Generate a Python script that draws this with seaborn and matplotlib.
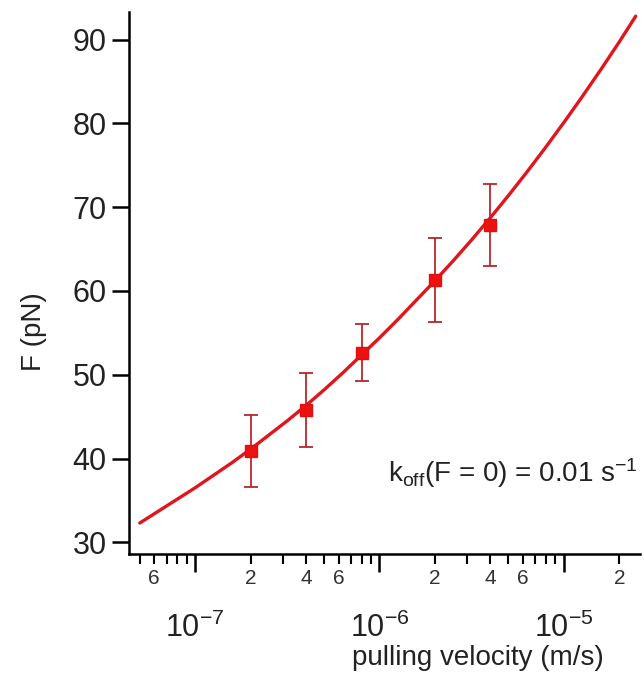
import numpy as np
import pandas as pd
import matplotlib
matplotlib.use("Agg")
import matplotlib.pyplot as plt
from matplotlib.ticker import FixedLocator, FuncFormatter
import seaborn as sns

sns.set_theme(style="ticks")
plt.rcParams["font.family"] = ["Liberation Sans", "DejaVu Sans"]
plt.rcParams["mathtext.fontset"] = "custom"
plt.rcParams["mathtext.rm"] = "Liberation Sans"
plt.rcParams["mathtext.it"] = "Liberation Sans"

# measured rupture forces
velocity = [2e-7, 4e-7, 8e-7, 2e-6, 4e-6]
force = [40.9, 45.8, 52.6, 61.3, 67.9]
force_err = [4.35, 4.4, 3.4, 5.05, 4.9]

# fitted model curve (log10 of velocity)
fit_logv = [-7.30, -7.20, -7.10, -7.00, -6.90, -6.80, -6.70, -6.60, -6.50,
            -6.40, -6.30, -6.20, -6.10, -6.00, -5.90, -5.80, -5.70, -5.60,
            -5.50, -5.40, -5.30, -5.20, -5.10, -5.00, -4.90, -4.80, -4.70,
            -4.61]
fit_force = [32.3, 33.7, 35.1, 36.5, 38.0, 39.5, 41.1, 42.8, 44.5,
             46.3, 48.2, 50.2, 52.3, 54.4, 56.6, 58.9, 61.2, 63.6,
             66.1, 68.7, 71.4, 74.2, 77.1, 80.1, 83.2, 86.4, 89.7,
             92.8]

annotation = r"k$_{\rm off}$(F = 0) = 0.01 s$^{-1}$"

fit = pd.DataFrame({"v": 10.0 ** np.array(fit_logv), "F": fit_force})

fig = plt.figure(figsize=(6.44, 6.73), dpi=100)
ax = fig.add_axes([129 / 644, 1 - 554 / 673, 511 / 644, 542 / 673])

sns.lineplot(data=fit, x="v", y="F", ax=ax, color="#e0161c", lw=2.4,
             sort=False, legend=False)
ax.errorbar(velocity, force, yerr=force_err, fmt="none", ecolor="#b8262c",
            elinewidth=1.3, capsize=5, capthick=1.3, zorder=3)
ax.plot(velocity, force, ls="none", marker="s", ms=9, color="#ee1111",
        mec="#e01010", zorder=4)

ax.set_xscale("log")
ax.set_xlim(4.38e-8, 2.59e-5)
ax.set_ylim(28.6, 93.3)

# y axis
ax.set_yticks([30, 40, 50, 60, 70, 80, 90])
ax.tick_params(axis="y", which="major", direction="out", length=12, width=1.8,
               labelsize=22, pad=4, color="black", labelcolor="#222222")

# x axis: decades below, 2/4/6 above
ax.xaxis.set_major_locator(FixedLocator([1e-7, 1e-6, 1e-5]))
ax.xaxis.set_major_formatter(FuncFormatter(
    lambda v, p: r"$\mathregular{10^{%d}}$" % int(round(np.log10(v)))))
minors = [m * 10.0 ** e for e in (-8, -7, -6, -5) for m in range(2, 10)]
ax.xaxis.set_minor_locator(FixedLocator(minors))


def minor_label(v, pos):
    m = int(round(v / 10.0 ** np.floor(np.log10(v) + 1e-9)))
    return str(m) if m in (2, 4, 6) else ""


ax.xaxis.set_minor_formatter(FuncFormatter(minor_label))
ax.tick_params(axis="x", which="major", direction="out", length=13, width=1.8,
               labelsize=22, pad=29, color="black", labelcolor="#222222")
ax.tick_params(axis="x", which="minor", direction="out", length=7, width=1.5,
               labelsize=15, pad=4, color="black", labelcolor="#333333")

for side in ("top", "right"):
    ax.spines[side].set_visible(False)
for side in ("left", "bottom"):
    ax.spines[side].set_linewidth(1.8)
    ax.spines[side].set_color("black")

ax.set_ylabel("F (pN)", fontsize=20, color="#222222")
ax.yaxis.set_label_coords(-0.16, 0.41)
ax.set_xlabel("pulling velocity (m/s)", fontsize=20, color="#222222")
ax.xaxis.set_label_coords(0.683, -0.168)

ax.text(0.507, 0.133, annotation, transform=ax.transAxes, fontsize=20,
        ha="left", va="baseline", color="#222222")

fig.savefig("out.png", dpi=100)
